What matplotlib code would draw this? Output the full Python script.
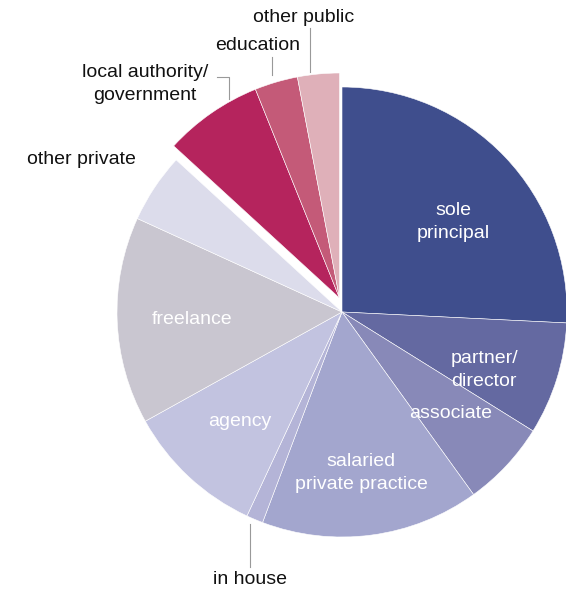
import matplotlib
matplotlib.use("Agg")
import matplotlib.pyplot as plt
import numpy as np

categories = ["sole principal", "partner/director", "associate", "salaried private practice",
              "in house", "agency", "freelance", "other private",
              "local authority/government", "education", "other public"]
values = [25.8, 8.1, 6.2, 15.7, 1.2, 10.0, 14.9, 5.0, 7.1, 3.1, 3.0]
colors = ["#3F4E8D", "#6469A1", "#8889B8", "#A3A6CE", "#B4B4D7", "#C2C3E0",
          "#C9C6D0", "#DCDCEB", "#B5245D", "#C45A78", "#DFB0B9"]
public_group = [8, 9, 10]

W, H = 566, 591
fig = plt.figure(figsize=(W / 100, H / 100), dpi=100)
ax = fig.add_axes([0, 0, 1, 1])

cx, cy, r = 342, H - 312, 225
wedges, _ = ax.pie(values, colors=colors, startangle=90, counterclock=False,
                   center=(cx, cy), radius=r, frame=True,
                   wedgeprops=dict(edgecolor="white", linewidth=0.4))
ax.set_xlim(0, W)
ax.set_ylim(0, H)
ax.set_aspect("equal")
ax.axis("off")

# explode the public-sector group together
dx, dy = -2.5, 14
for i in public_group:
    wedges[i].set_center((cx + dx, cy + dy))

font = "Liberation Sans"
fs = 14
white = dict(color="white", fontsize=fs, family=font, ha="center", va="center", linespacing=1.45)
black = dict(color="#111111", fontsize=fs, family=font, ha="center", va="center", linespacing=1.4)

ax.text(453, H - 222, "sole\nprincipal", **white)
ax.text(484, H - 370, "partner/\ndirector", **white)
ax.text(451, H - 414, "associate", **white)
ax.text(361, H - 473, "salaried\nprivate practice", **white)
ax.text(240, H - 422, "agency", **white)
ax.text(192, H - 319, "freelance", **white)

ax.text(81, H - 160, "other private", **black)
ax.text(145, H - 84, "local authority/\ngovernment", **black)
ax.text(258, H - 46, "education", **black)
ax.text(304, H - 17, "other public", **black)
ax.text(250, H - 579, "in house", **black)

lc = dict(color="#999999", linewidth=0.8)
ax.plot([217, 229, 229], [H - 77, H - 77, H - 99], **lc)
ax.plot([272, 272], [H - 57, H - 75], **lc)
ax.plot([310, 310], [H - 28, H - 72], **lc)
ax.plot([250, 250], [H - 524, H - 567], **lc)

fig.savefig("out.png", dpi=100)
